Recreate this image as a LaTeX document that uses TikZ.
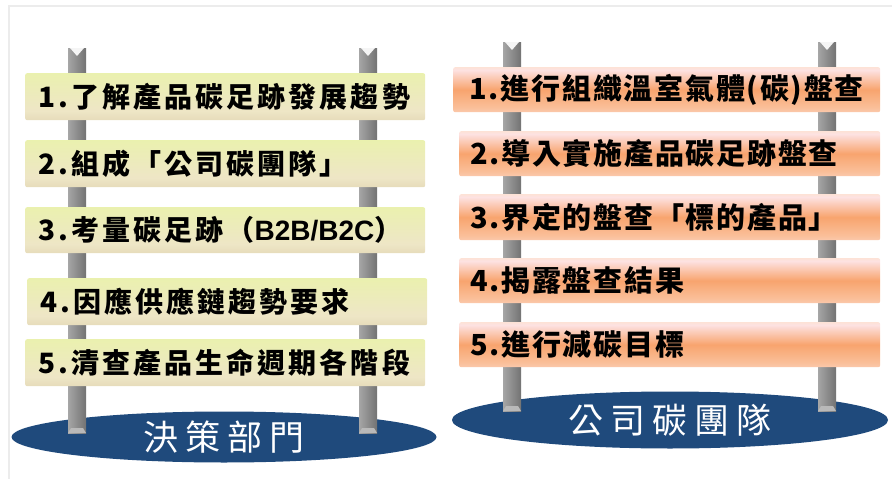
\documentclass[tikz,border=0pt]{standalone}
\usepackage{fontspec}
\usetikzlibrary{shapes.geometric}
\newfontfamily\cjk[LetterSpace=6]{Noto Sans CJK TC}
\newfontfamily\cjkloose[LetterSpace=11]{Noto Sans CJK TC}
\newfontfamily\cjkwide[LetterSpace=20]{Noto Sans CJK TC}
\newfontfamily\arialish{Liberation Sans}

\definecolor{bargreen}{HTML}{E8F7A0}
\definecolor{barcream}{HTML}{EEE6C6}
\definecolor{bartan}{HTML}{D2C29C}
\definecolor{barcap}{HTML}{FCE4AE}
\definecolor{barpink}{HTML}{FDE2E2}
\definecolor{barorange}{HTML}{F8A46E}
\definecolor{basenavy}{HTML}{1F4A7C}

\pgfdeclareverticalshading{greenbar}{100bp}{color(0bp)=(bartan); color(35bp)=(barcream); color(100bp)=(bargreen)}
\pgfdeclareverticalshading{orangebar}{100bp}{color(0bp)=(barpink); color(10bp)=(barpink); color(30bp)=(barorange!70); color(50bp)=(barorange); color(72bp)=(barpink); color(86bp)=(barcap); color(100bp)=(barcap)}

% one upright pole: left x, top y, bottom y
\newcommand{\pole}[3]{%
    \shade[left color=gray!70, middle color=gray!12, right color=gray!90!black] (#1,#2) rectangle ++(18,#3-#2);
    \fill[gray!8] (#1+2,#2) -- ++(14,0) -- ++(-7,8) -- cycle;
    \fill[gray!55] (#1,#3) -- ++(3,-5) -- ++(12,0) -- ++(3,5) -- cycle;
}

\begin{document}
\begin{tikzpicture}[x=1pt,y=-1pt,
    lbar/.style={anchor=north west, minimum width=400pt, minimum height=47pt,
        text width=374pt, inner xsep=13pt, inner ysep=0pt, align=left,
        rounded corners=2pt, shading=greenbar,
        font=\cjkloose\bfseries\fontsize{28}{28}\selectfont},
    rbar/.style={anchor=north west, minimum width=421pt, minimum height=45pt,
        text width=399pt, inner xsep=11pt, inner ysep=0pt, align=left,
        rounded corners=2pt, shading=orangebar,
        font=\cjk\bfseries\fontsize{29}{29}\selectfont},
    base/.style={ellipse, fill=basenavy, text=white, inner sep=0pt,
        font=\cjkwide\fontsize{35}{35}\selectfont}]

    \useasboundingbox (0,0) rectangle (892,479);

    % light frame
    \draw[gray!15, line width=2pt] (9,479) -- (9,6) -- (892,6);

    % bases
    \node[base, minimum width=425pt, minimum height=51pt] (deciders) at (224,437) {決策部門};
    \node[base, minimum width=436pt, minimum height=57pt] (carbonteam) at (670,420) {公司碳團隊};

    % poles
    \pole{68}{48}{433}
    \pole{359}{48}{433}
    \pole{503}{42}{411}
    \pole{818}{42}{411}

    % left ladder
    \node[lbar] (l1) at (25,73) {1.了解產品碳足跡發展趨勢};
    \node[lbar] (l2) at (25,140) {2.組成「公司碳團隊」};
    \node[lbar, minimum height=46pt] (l3) at (25,207) {3.考量碳足跡（{\arialish\bfseries B2B/B2C}）};
    \node[lbar, minimum width=399pt] (l4) at (27,278) {4.因應供應鏈趨勢要求};
    \node[lbar] (l5) at (25,339) {5.清查產品生命週期各階段};

    % right ladder
    \node[rbar, minimum width=427pt, text width=405pt, align=center] (r1) at (453,67) {1.進行組織溫室氣體(碳)盤查};
    \node[rbar] (r2) at (459,131) {2.導入實施產品碳足跡盤查};
    \node[rbar, minimum height=46pt] (r3) at (459,194) {3.界定的盤查「標的產品」};
    \node[rbar] (r4) at (459,258) {4.揭露盤查結果};
    \node[rbar] (r5) at (459,322) {5.進行減碳目標};

\end{tikzpicture}
\end{document}
